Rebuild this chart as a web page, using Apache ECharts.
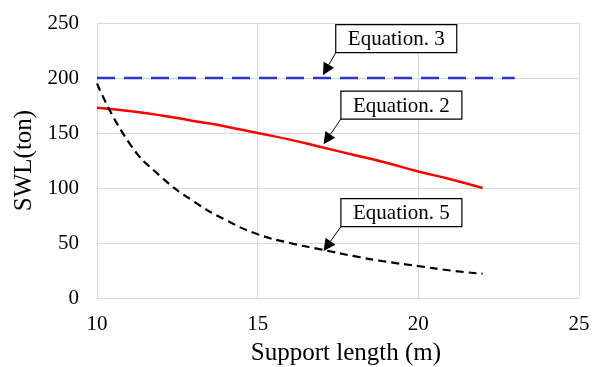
<!DOCTYPE html>
<html>
<head>
<meta charset="utf-8">
<script src="https://cdn.jsdelivr.net/npm/echarts@6/dist/echarts.min.js"></script>
<style>
html,body{margin:0;padding:0;background:#fff;}
#chart{width:597px;height:367px;}
</style>
</head>
<body>
<div id="chart"></div>
<script>
// Data
var xTicks = [10, 15, 20, 25];
var yTicks = [0, 50, 100, 150, 200, 250];

var eq3X = [10, 23];
var eq3Y = [200, 200];

var eq2X = [10, 11, 12, 13, 14, 15, 16, 17, 18, 19, 20, 21, 22];
var eq2Y = [173, 170, 166, 161, 156, 150, 144, 137, 130, 123, 115, 108, 100];

var eq5X = [10, 11, 12, 13, 14, 15, 16, 17, 18, 19, 20, 21, 22];
var eq5Y = [195, 141, 110, 88, 71, 58, 50, 44, 38, 33, 29, 25, 22];

var annLabels = ['Equation. 3', 'Equation. 2', 'Equation. 5'];
// tip of the arrow in data coords, and box bottom-left corner in data coords
var annTips = [[17.03, 202.5], [17.05, 139.7], [17.05, 42.7]];
var annBoxes = [[17.43, 223.0], [17.59, 162.7], [17.59, 64.8]];

function pairs(xs, ys) { return xs.map(function (x, i) { return [x, ys[i]]; }); }

var FONT = '"Liberation Serif", "Times New Roman", serif';
var GRID = '#d9d9d9';

var chart = echarts.init(document.getElementById('chart'));
chart.setOption({
  animation: false,
  backgroundColor: '#ffffff',
  grid: { left: 97, right: 18, top: 23, bottom: 69, containLabel: false, outerBoundsMode: 'none' },
  xAxis: {
    type: 'value', min: xTicks[0], max: xTicks[xTicks.length - 1], interval: 5,
    name: 'Support length (m)', nameLocation: 'middle', nameGap: 43,
    nameTextStyle: { fontFamily: FONT, fontSize: 25, color: '#000', padding: [0, 0, 0, 16] },
    axisLine: { show: true, lineStyle: { color: GRID, width: 1 } },
    axisTick: { show: false },
    axisLabel: { fontFamily: FONT, fontSize: 21, color: '#000', margin: 16 },
    splitLine: { show: true, lineStyle: { color: GRID, width: 1 } }
  },
  yAxis: {
    type: 'value', min: yTicks[0], max: yTicks[yTicks.length - 1], interval: 50,
    name: 'SWL(ton)', nameLocation: 'middle', nameGap: 52, nameRotate: 90,
    nameTextStyle: { fontFamily: FONT, fontSize: 25, color: '#000' },
    axisLine: { show: true, lineStyle: { color: GRID, width: 1 } },
    axisTick: { show: false },
    axisLabel: { fontFamily: FONT, fontSize: 21, color: '#000', margin: 18 },
    splitLine: { show: true, lineStyle: { color: GRID, width: 1 } }
  },
  series: [
    { type: 'line', data: pairs(eq3X, eq3Y), showSymbol: false, symbol: 'none',
      lineStyle: { color: '#2b35c9', width: 2.5, type: [18, 9] } },
    { type: 'line', data: pairs(eq2X, eq2Y), showSymbol: false, symbol: 'none', smooth: true,
      lineStyle: { color: '#ff0000', width: 2.5 } },
    { type: 'line', data: pairs(eq5X, eq5Y), showSymbol: false, symbol: 'none', smooth: true,
      lineStyle: { color: '#000000', width: 2.2, type: [8, 5] } }
  ]
});

var BOX_W = 121, BOX_H = 28;
var elems = [];
for (var i = 0; i < annLabels.length; i++) {
  var tip = chart.convertToPixel({ gridIndex: 0 }, annTips[i]);
  var bl = chart.convertToPixel({ gridIndex: 0 }, annBoxes[i]);
  var dx = tip[0] - bl[0], dy = tip[1] - bl[1];
  var len = Math.sqrt(dx * dx + dy * dy);
  var ux = dx / len, uy = dy / len;
  var hl = 12, hw = 6;
  var bx = tip[0] - ux * hl, by = tip[1] - uy * hl;
  elems.push({
    type: 'line', silent: true, z: 100,
    shape: { x1: bl[0], y1: bl[1], x2: bx, y2: by },
    style: { stroke: '#000', lineWidth: 1 }
  });
  elems.push({
    type: 'polygon', silent: true, z: 100,
    shape: { points: [[tip[0], tip[1]], [bx - uy * hw, by + ux * hw], [bx + uy * hw, by - ux * hw]] },
    style: { fill: '#000' }
  });
  elems.push({
    type: 'rect', silent: true, z: 100,
    shape: { x: bl[0], y: bl[1] - BOX_H, width: BOX_W, height: BOX_H },
    style: { fill: '#fff', stroke: '#000', lineWidth: 1.2 }
  });
  elems.push({
    type: 'text', silent: true, z: 101,
    x: bl[0] + BOX_W / 2, y: bl[1] - BOX_H / 2 + 1,
    style: { text: annLabels[i], font: '21px ' + FONT, fill: '#000', align: 'center', verticalAlign: 'middle' }
  });
}
chart.setOption({ graphic: { elements: elems } });
</script>
</body>
</html>
